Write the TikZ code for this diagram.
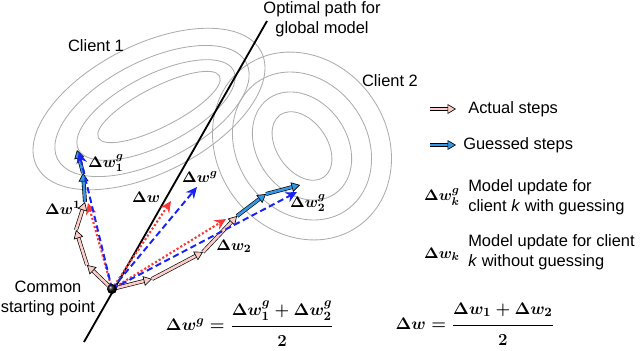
\documentclass[tikz,border=0pt]{standalone}
\usepackage{amsmath}
\usepackage[no-math]{fontspec}
\setmainfont{Liberation Sans}
\usetikzlibrary{arrows.meta}
\definecolor{updred}{RGB}{250,55,55}
\definecolor{updblue}{RGB}{25,35,245}
\definecolor{actualfill}{RGB}{250,205,200}
\definecolor{guessfill}{RGB}{55,150,225}
\definecolor{ringgray}{RGB}{172,172,172}
\tikzset{
    ring/.style={ringgray, line width=0.6pt},
    % hollow block arrows for the single steps
    actualstep/.style={
        black, line width=0.45pt,
        double=actualfill, double distance=1.9pt,
        -{Triangle[length=6pt, width=7pt, fill=actualfill, line width=0.45pt]}
    },
    guessstep/.style={
        black, line width=0.45pt,
        double=guessfill, double distance=1.9pt,
        -{Triangle[length=6pt, width=7pt, fill=guessfill, line width=0.45pt]}
    },
    % model updates from the start point
    plainupdate/.style={
        updred, line width=1.5pt, dash pattern=on 1.5pt off 1.5pt,
        -{Stealth[length=8pt, width=7.5pt]}
    },
    guessupdate/.style={
        updblue, line width=1.4pt, dash pattern=on 4.5pt off 2.5pt,
        -{Stealth[length=8pt, width=7.5pt]}
    },
    plaintext/.style={font=\fontsize{11.7}{14.2}\selectfont, inner sep=0pt},
    mathlabel/.style={font=\fontsize{11.2}{13}\selectfont\boldmath, inner sep=0pt},
    formula/.style={font=\fontsize{13}{15}\selectfont\boldmath, inner sep=0pt}
}
\newcommand\numstrut{\rule[-6pt]{0pt}{0pt}}
\newcommand\denstrut{\rule{0pt}{13pt}}
\begin{document}
\begin{tikzpicture}[x=0.025cm, y=-0.025cm]
\useasboundingbox (0,0) rectangle (640,350);

% ===== contour rings =====
\foreach \cx/\cy/\a/\b in {159/107/68/20, 156/110/87/35, 152/111/106/50, 149/109/126/64}
    \draw[ring, rotate around={27:(\cx,\cy)}] (\cx,\cy) ellipse [x radius=\a, y radius=\b];
\coordinate (ctwo) at (302,146);
\foreach \a/\b in {38/25, 58/45, 78/65, 98/85}
    \draw[ring, rotate around={-55:(ctwo)}] (ctwo) ellipse [x radius=\a, y radius=\b];

% ===== optimal path =====
\coordinate (pathlow) at (84,342);
\coordinate (pathhigh) at (267,21);
\draw[line width=1.3pt] (pathlow) -- (pathhigh);

\path
    (112,289) coordinate (start)
    % client 1
    (87,265) coordinate (a1)
    (76,230) coordinate (a2)
    (85,202) coordinate (a3)
    (83,173) coordinate (ga1)
    (77,150) coordinate (ga2)
    % client 2
    (152,279) coordinate (b1)
    (203,252) coordinate (b2)
    (237,216) coordinate (b3)
    (266,194) coordinate (gb1)
    (300,185) coordinate (gb2)
    % update tips
    (88,203) coordinate (dwone)
    (171,201) coordinate (dwavg)
    (226,219) coordinate (dwtwo)
    (79,152) coordinate (dgone)
    (197,187) coordinate (dgavg)
    (297,192) coordinate (dgtwo)
    ;

% steps
\draw[actualstep] (start) -- (a1);
\draw[actualstep] (a1) -- (a2);
\draw[actualstep] (a2) -- (a3);
\draw[guessstep] (a3) -- (ga1);
\draw[guessstep] (ga1) -- (ga2);
\draw[actualstep] (start) -- (b1);
\draw[actualstep] (b1) -- (b2);
\draw[actualstep] (b2) -- (b3);
\draw[guessstep] (b3) -- (gb1);
\draw[guessstep] (gb1) -- (gb2);

% updates
\draw[plainupdate] (start) -- (dwone);
\draw[plainupdate] (start) -- (dwavg);
\draw[plainupdate] (start) -- (dwtwo);
\draw[guessupdate] (start) -- (dgone);
\draw[guessupdate] (start) -- (dgavg);
\draw[guessupdate] (start) -- (dgtwo);

\shade[ball color=black] (start) circle (5);

% labels
\node[plaintext, align=center] (pathlabel) at (322,19) {Optimal path for\\global model};
\node[plaintext] (clientone) at (96,46) {Client 1};
\node[plaintext] (clienttwo) at (390,81) {Client 2};
\node[plaintext, align=center] (startlabel) at (48,298) {Common\\starting point};

\node[mathlabel] (lone) at (63,208) {$\Delta w^{1}$};
\node[mathlabel] (lgone) at (106,163) {$\Delta w_{1}^{g}$};
\node[mathlabel] (lavg) at (146,197) {$\Delta w$};
\node[mathlabel] (lgavg) at (200,177) {$\Delta w^{g}$};
\node[mathlabel] (ltwo) at (234,246) {$\Delta w_{2}$};
\node[mathlabel] (lgtwo) at (308,203) {$\Delta w_{2}^{g}$};

% ===== legend =====
\coordinate (keyaa) at (430,109);
\coordinate (keyab) at (456,109);
\coordinate (keyga) at (430,145);
\coordinate (keygb) at (456,145);
\draw[actualstep] (keyaa) -- (keyab);
\draw[guessstep] (keyga) -- (keygb);
\node[plaintext, anchor=west] (keyactual) at (468,109) {Actual steps};
\node[plaintext, anchor=west] (keyguess) at (463,145) {Guessed steps};

\node[mathlabel] (keydwg) at (442,197) {$\Delta w_{k}^{g}$};
\node[plaintext, anchor=west, align=left] (keywith) at (468,197)
    {Model update for\\client \textit{k} with guessing};
\node[mathlabel] (keydw) at (442,254) {$\Delta w_{k}$};
\node[plaintext, anchor=west, align=left] (keywithout) at (468,252)
    {Model update for client\\\textit{k} without guessing};

% ===== averages =====
\node[formula] (avgguess) at (250,324)
    {$\Delta w^{g}=\dfrac{\Delta w_{1}^{g}+\Delta w_{2}^{g}\numstrut}{\denstrut 2}$};
\node[formula] (avgplain) at (475,324)
    {$\Delta w=\dfrac{\Delta w_{1}+\Delta w_{2}\numstrut}{\denstrut 2}$};
\end{tikzpicture}
\end{document}
